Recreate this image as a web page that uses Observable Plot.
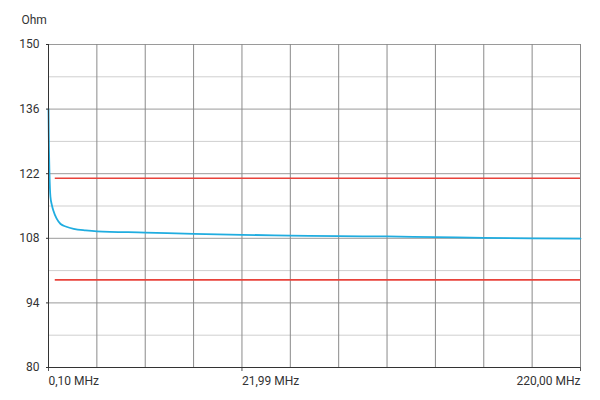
<!DOCTYPE html>
<html>
<head>
<meta charset="utf-8">
<script src="https://cdn.jsdelivr.net/npm/d3@7"></script>
<script src="https://cdn.jsdelivr.net/npm/@observablehq/plot@0.6"></script>
<style>
  html, body { margin: 0; padding: 0; background: #fff; }
  #chart { width: 600px; height: 400px; }
</style>
</head>
<body>
<div id="chart"></div>
<script>
// Sweep position in grid divisions (0 = 0,10 MHz ... 11 = 220,00 MHz)
const sweepPos = [0, 0.005, 0.01, 0.02, 0.04, 0.07, 0.1, 0.166, 0.25, 0.37, 0.52, 0.77, 1, 2, 3, 4, 5, 6, 7, 8, 9, 10, 11];
const impedance = [136, 131, 127, 122, 117, 115.2, 114, 112.3, 111.1, 110.5, 110.05, 109.7, 109.5, 109.25, 108.97, 108.75, 108.6, 108.45, 108.4, 108.25, 108.1, 108.0, 107.95];

const limitValues = [121, 99];
const limitStart = 0.14;
const limitEnd = 11;

const majorY = [80, 94, 108, 122, 136, 150];
const minorY = [87, 101, 115, 129, 143];
const gridX = [0, 1, 2, 3, 4, 5, 6, 7, 8, 9, 10, 11];

const tickPos = [0, 4, 11];
const tickLabels = ["0,10 MHz", "21,99 MHz", "220,00 MHz"];
const tickAnchors = ["start", "start", "end"];

const curve = sweepPos.map((x, i) => ({x, y: impedance[i]}));
const limits = limitValues.map(v => ({y: v, x1: limitStart, x2: limitEnd}));
const xTicks = tickPos.map((x, i) => ({x, label: tickLabels[i], anchor: tickAnchors[i]}));

const font = "Roboto, 'Open Sans', sans-serif";

const chart = Plot.plot({
  width: 600,
  height: 400,
  marginLeft: 48,
  marginRight: 20,
  marginTop: 44,
  marginBottom: 33,
  style: {fontFamily: font, fontSize: "12px", color: "#333", background: "#fff"},
  x: {domain: [0, 11], axis: null},
  y: {domain: [80, 150], axis: null},
  marks: [
    Plot.ruleY(minorY, {stroke: "#cfcfcf", strokeWidth: 1}),
    Plot.ruleY(majorY, {stroke: "#9a9a9a", strokeWidth: 1}),
    Plot.ruleX(gridX, {stroke: "#8a8a8a", strokeWidth: 1}),
    Plot.ruleY(limits, {y: "y", x1: "x1", x2: "x2", stroke: "#e8433b", strokeWidth: 1.6}),
    Plot.line(curve, {x: "x", y: "y", stroke: "#20ade0", strokeWidth: 1.8, curve: "monotone-x"}),
    Plot.axisY({ticks: majorY, label: null, tickSize: 2, tickPadding: 7, tickFormat: d => String(d), fontSize: 12, fill: "#333", stroke: "#333"}),
    Plot.axisX({ticks: tickPos, label: null, tickSize: 4, tickFormat: () => "", stroke: "#555"}),
    Plot.ruleX([0], {stroke: "#333", strokeWidth: 1}),
    Plot.ruleY([80], {stroke: "#333", strokeWidth: 1}),
    ...["start", "end"].map(a =>
      Plot.text(xTicks.filter(d => d.anchor === a), {
        x: "x", text: "label", frameAnchor: "bottom", dy: 17, textAnchor: a,
        fontSize: 12, fill: "#333"
      })
    ),
    Plot.text(["Ohm"], {frameAnchor: "top-left", dx: -27, dy: -29, textAnchor: "start", fontSize: 12, fill: "#333"})
  ]
});

document.getElementById("chart").appendChild(chart);
</script>
</body>
</html>
